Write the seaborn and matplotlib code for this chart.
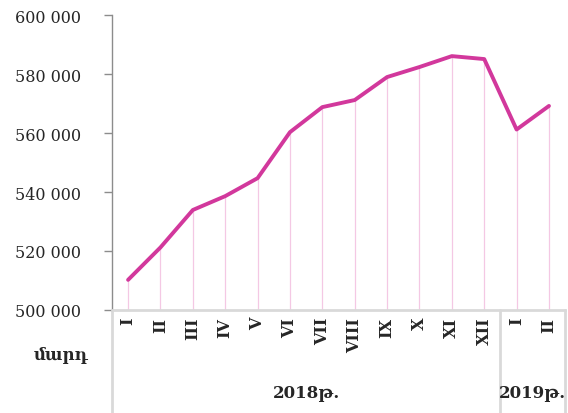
import numpy as np
import pandas as pd
import seaborn as sns
import matplotlib.pyplot as plt

# monthly values, Jan 2018 - Feb 2019
months = ["I", "II", "III", "IV", "V", "VI", "VII", "VIII", "IX", "X", "XI", "XII", "I", "II"]
values = [510200, 521200, 533900, 538600, 544700, 560300, 568800, 571200,
          579000, 582400, 586100, 585100, 561200, 569200]
years = ["2018թ.", "2019թ."]
year_sizes = [12, 2]
unit_label = "մարդ"
yticks = [500000, 520000, 540000, 560000, 580000, 600000]

sns.set_style("white")
plt.rcParams["font.family"] = ["DejaVu Serif", "DejaVu Sans"]

df = pd.DataFrame({"pos": np.arange(len(months)), "value": values})

fig = plt.figure(figsize=(5.68, 4.14), dpi=100)
ax = fig.add_axes([0.197, 0.249, 0.798, 0.712])

line_col = "#d2389c"
ax.vlines(df["pos"], yticks[0], df["value"], color="#f4c8e4", lw=0.9, zorder=1)
sns.lineplot(data=df, x="pos", y="value", color=line_col, lw=2.8, ax=ax, zorder=3)

ax.set_xlim(-0.5, len(months) - 0.5)
ax.set_ylim(yticks[0], yticks[-1])
ax.set_yticks(yticks)
ax.set_yticklabels([f"{v:,}".replace(",", " ") for v in yticks], fontsize=11.5)
ax.set_xticks(df["pos"])
ax.set_xticklabels(months, rotation=90, fontsize=11.5, fontweight="bold", va="top")
ax.set_xlabel("")
ax.set_ylabel("")

for s in ["top", "right"]:
    ax.spines[s].set_visible(False)
ax.spines["left"].set_color("#8c8c8c")
ax.spines["left"].set_linewidth(1.0)
ax.spines["bottom"].set_color("#d9d9d9")
ax.spines["bottom"].set_linewidth(2.0)
ax.tick_params(axis="y", which="major", direction="out", length=6, width=1,
               color="#8c8c8c", pad=16, left=True)
ax.tick_params(axis="x", length=0, pad=5)

# category group boxes below the axis
trans = ax.get_xaxis_transform()
bounds = np.concatenate([[0], np.cumsum(year_sizes)]) - 0.5
for b in bounds:
    ax.plot([b, b], [0, -0.36], transform=trans, color="#d9d9d9", lw=2,
            clip_on=False, zorder=0)
for i, yr in enumerate(years):
    mid = (bounds[i] + bounds[i + 1]) / 2
    ax.text(mid, -0.28, yr, transform=trans, ha="center", va="center",
            fontsize=12, fontweight="bold")

fig.text(0.108, 0.142, unit_label, ha="center", va="center",
         fontsize=12, fontweight="bold")

fig.savefig("out.png", dpi=100)
